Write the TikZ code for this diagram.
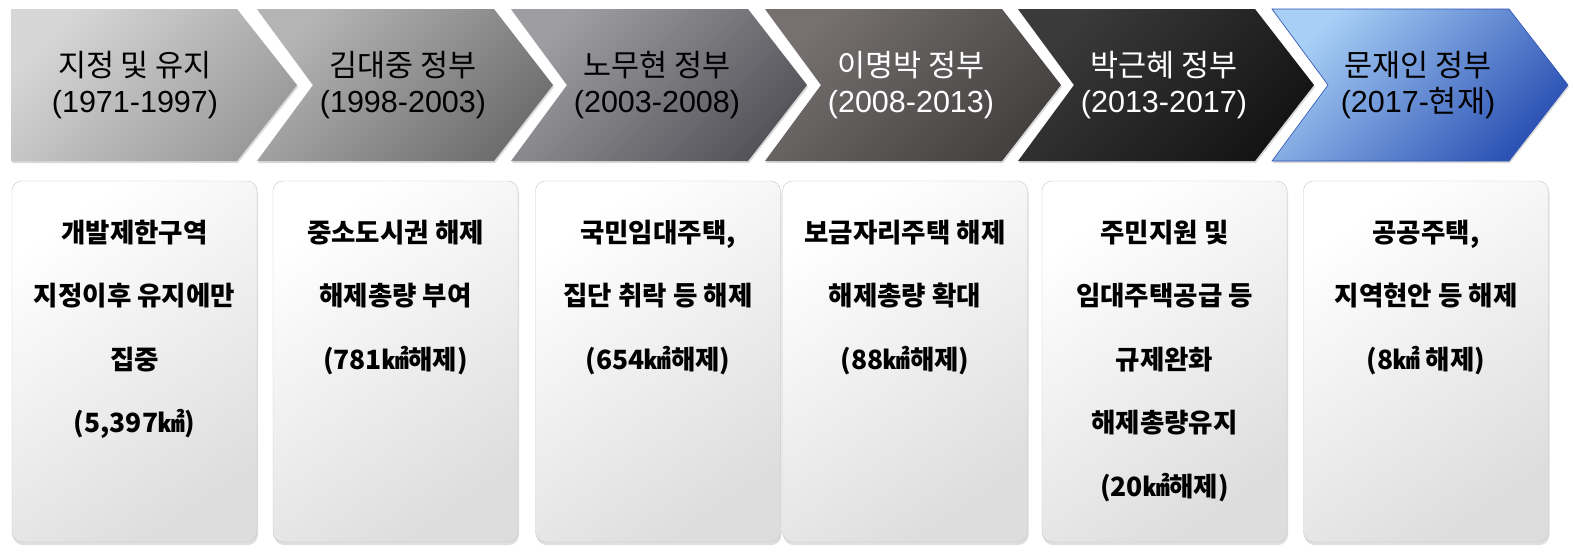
\documentclass[tikz,border=0pt]{standalone}
\usepackage{fontspec}
\setmainfont{Noto Sans CJK KR}
\newfontfamily\latin{Liberation Sans}
\usetikzlibrary{positioning,shadows}

\definecolor{gA1}{HTML}{D6D6D6}\definecolor{gA2}{HTML}{9A9A9A}
\definecolor{gB1}{HTML}{B4B4B4}\definecolor{gB2}{HTML}{6E6E6E}
\definecolor{gC1}{HTML}{9E9EA2}\definecolor{gC2}{HTML}{54545A}
\definecolor{gD1}{HTML}{767070}\definecolor{gD2}{HTML}{444040}
\definecolor{gE1}{HTML}{3A3A3A}\definecolor{gE2}{HTML}{141414}
\definecolor{gF1}{HTML}{A8D0F6}\definecolor{gFm}{HTML}{4A80DA}\definecolor{gF2}{HTML}{2C52B4}
\definecolor{cardline}{HTML}{C6C6C6}
\definecolor{cardgray}{HTML}{DDDDDD}

\begin{document}
\begin{tikzpicture}[x=1pt, y=-1pt,
  chev/.style={drop shadow={shadow xshift=1pt, shadow yshift=-2pt, opacity=.3}},
  era/.style={align=center, inner sep=0pt, font=\fontsize{30.5}{36}\selectfont},
  card/.style={draw=cardline, rounded corners=10pt, top color=white, bottom color=cardgray,
    shading angle=35, minimum width=245pt, minimum height=361pt,
    drop shadow={shadow xshift=1pt, shadow yshift=-3pt, opacity=.25}},
  note/.style={align=center, inner sep=0pt, font=\bfseries\fontsize{26.5}{63.5}\selectfont}]

\useasboundingbox (0,0) rectangle (1573,558);

% chevrons
\path[chev, top color=gA1, bottom color=gA2, shading angle=45]
  (11,9) -- (237,9) -- (297,85) -- (237,161) -- (11,161) -- cycle;
\foreach \x/\ca/\cb in {257/gB1/gB2, 511/gC1/gC2, 765/gD1/gD2, 1018/gE1/gE2}
  \path[chev, top color=\ca, bottom color=\cb, shading angle=45]
    (\x,9) -- ++(237,0) -- ++(59,76) -- ++(-59,76) -- ++(-237,0) -- ++(56,-76) -- cycle;
\path[chev, draw=gF2, line width=.6pt, top color=gF1, middle color=gFm, bottom color=gF2, shading angle=45]
  (1272,9) -- ++(237,0) -- ++(59,76) -- ++(-59,76) -- ++(-237,0) -- ++(56,-76) -- cycle;

\node[era] (e1) at (135,85) {지정 및 유지\\{\latin (1971-1997)}};
\node[era] (e2) at (403,85) {김대중 정부\\{\latin (1998-2003)}};
\node[era] (e3) at (657,85) {노무현 정부\\{\latin (2003-2008)}};
\node[era, text=white] (e4) at (911,85) {이명박 정부\\{\latin (2008-2013)}};
\node[era, text=white] (e5) at (1164,85) {박근혜 정부\\{\latin (2013-2017)}};
\node[era] (e6) at (1418,85) {문재인 정부\\{\latin (2017-}현재{\latin )}};

% cards
\node[card] (c1) at (134.5,361.5) {};
\node[card] (c2) at (395.5,361.5) {};
\node[card] (c3) at (658,361.5) {};
\node[card] (c4) at (905,361.5) {};
\node[card] (c5) at (1164.5,361.5) {};
\node[card] (c6) at (1426,361.5) {};

\node[note, below=39pt of c1.north] (n1) {개발제한구역\\지정이후 유지에만\\집중\\(5,397㎢)};
\node[note, below=39pt of c2.north] (n2) {중소도시권 해제\\해제총량 부여\\(781㎢해제)};
\node[note, below=39pt of c3.north] (n3) {국민임대주택,\\집단 취락 등 해제\\(654㎢해제)};
\node[note, below=39pt of c4.north] (n4) {보금자리주택 해제\\해제총량 확대\\(88㎢해제)};
\node[note, below=39pt of c5.north] (n5) {주민지원 및\\임대주택공급 등\\규제완화\\해제총량유지\\(20㎢해제)};
\node[note, below=39pt of c6.north] (n6) {공공주택,\\지역현안 등 해제\\(8㎢ 해제)};
\end{tikzpicture}
\end{document}
